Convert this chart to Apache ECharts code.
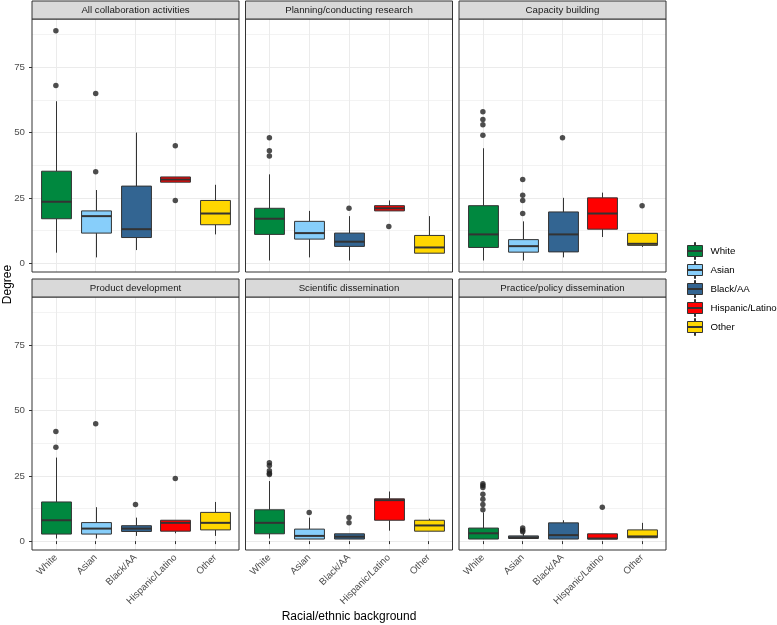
<!DOCTYPE html>
<html>
<head>
<meta charset="utf-8">
<script src="https://cdn.jsdelivr.net/npm/echarts@6/dist/echarts.min.js"></script>
<style>html,body{margin:0;padding:0;background:#fff;}#c{width:777px;height:625px;}</style>
</head>
<body>
<div id="c"></div>
<script>
// ---------- data ----------
const categories = ['White', 'Asian', 'Black/AA', 'Hispanic/Latino', 'Other'];
const panels = ['All collaboration activities', 'Planning/conducting research', 'Capacity building',
                'Product development', 'Scientific dissemination', 'Practice/policy dissemination'];
const yTicks = [0, 25, 50, 75];
const yMinorTicks = [12.5, 37.5, 62.5, 87.5];

// box stats per category: [lower whisker, Q1, median, Q3, upper whisker]
const boxAll        = [[4, 17, 23.5, 35.2, 62], [2.2, 11.5, 18, 20, 28], [5, 9.8, 13, 29.5, 50], [31, 31, 32, 33, 33], [11, 14.7, 19, 24, 30]];
const boxPlanning   = [[1, 11, 17, 21, 34], [2.2, 9.2, 11.5, 16, 20], [1, 6.4, 8.2, 11.5, 18], [20, 20, 21, 22, 24], [3.8, 3.8, 6, 10.6, 18]];
const boxCapacity   = [[1, 6, 11, 22, 44], [1, 4.2, 6.5, 9, 16], [2.2, 4.3, 11, 19.6, 25], [10, 13, 19, 25, 27], [6.2, 6.8, 7.4, 11.4, 11.4]];
const boxProduct    = [[1, 2.7, 8, 15, 32], [1, 2.7, 4.8, 7.1, 13], [2, 3.7, 4.8, 5.9, 9], [3, 3.8, 7, 8, 8], [2, 4.3, 7, 11, 15]];
const boxScientific = [[1, 2.8, 7, 12, 23], [0.8, 0.8, 2, 4.6, 9], [0.8, 0.8, 1.7, 2.8, 2.8], [4, 8, 15.7, 16.2, 19], [3.8, 3.8, 6, 8, 8.6]];
const boxPractice   = [[0.8, 0.8, 3, 5, 11], [0.8, 1, 1.5, 2, 3], [0.8, 0.8, 2.3, 7, 8], [0.8, 0.8, 1, 2.8, 2.8], [1.3, 1.3, 1.8, 4.3, 7]];

// outliers per category
const outAll        = [[89, 68], [65, 35], [], [45, 24], []];
const outPlanning   = [[48, 43, 41], [], [21], [14], []];
const outCapacity   = [[58, 55, 53, 49], [32, 26, 24, 19], [48], [], [22]];
const outProduct    = [[42, 36], [45], [14], [24], []];
const outScientific = [[30, 29, 27, 26, 25.5], [11], [9, 7], [], []];
const outPractice   = [[22, 21.3, 20.5, 18, 16, 14, 12], [5, 4.2, 3.6], [], [13], []];

const boxes = [boxAll, boxPlanning, boxCapacity, boxProduct, boxScientific, boxPractice];
const outliers = [outAll, outPlanning, outCapacity, outProduct, outScientific, outPractice];

// ---------- style / layout ----------
const colors = ['#00883F', '#87CEFA', '#336592', '#FF0000', '#FFD700'];
const FONT = '"Liberation Sans", Arial, sans-serif';
const colLeft = [32, 245.5, 459];
const rowTop = [19, 297];
const PW = 207, PH = 253, STRIP = 18;
const Y_MIN = -3.4, Y_MAX = 93.5;

const grids = [], xAxes = [], yAxes = [], series = [], graphics = [];

panels.forEach((name, p) => {
  const col = p % 3, row = Math.floor(p / 3);
  const left = colLeft[col], top = rowTop[row];
  grids.push({left: left, top: top, width: PW, height: PH, show: true,
              borderColor: '#333333', borderWidth: 1, backgroundColor: 'transparent', z: 3});
  const bottomRow = row === 1;
  xAxes.push({
    gridIndex: p, type: 'value', min: 0.4, max: 5.6,
    axisLine: {show: false},
    axisTick: {show: bottomRow, length: 3, lineStyle: {color: '#333333'}, customValues: [1, 2, 3, 4, 5]},
    axisLabel: {show: bottomRow, customValues: [1, 2, 3, 4, 5], rotate: 45, margin: 6,
                formatter: v => categories[Math.round(v) - 1], color: '#4D4D4D', fontSize: 9.7, fontFamily: FONT},
    splitLine: {show: true, lineStyle: {color: '#EBEBEB', width: 1}}
  });
  const leftCol = col === 0;
  yAxes.push({
    gridIndex: p, type: 'value', min: Y_MIN, max: Y_MAX, position: 'left',
    axisLine: {show: false},
    axisTick: {show: leftCol, length: 3, lineStyle: {color: '#333333'}, customValues: yTicks},
    axisLabel: {show: leftCol, customValues: yTicks, color: '#4D4D4D', fontSize: 9.7, fontFamily: FONT, margin: 7},
    splitLine: {show: true, lineStyle: {color: '#EBEBEB', width: 1}}
  });
  yAxes.push({
    gridIndex: p, type: 'value', min: Y_MIN, max: Y_MAX, position: 'right',
    axisLine: {show: false}, axisLabel: {show: false},
    axisTick: {show: false, customValues: yMinorTicks},
    splitLine: {show: true, lineStyle: {color: '#F3F3F3', width: 1}}
  });

  categories.forEach((cat, c) => {
    series.push({
      type: 'custom', name: cat, xAxisIndex: p, yAxisIndex: p * 2, z: 4,
      itemStyle: {color: colors[c]},
      encode: {x: 0, y: [1, 2, 3, 4, 5]},
      data: [[c + 1].concat(boxes[p][c])],
      renderItem: function (params, api) {
        const x = api.value(0);
        const lo = api.coord([x, api.value(1)]);
        const q1 = api.coord([x, api.value(2)]);
        const md = api.coord([x, api.value(3)]);
        const q3 = api.coord([x, api.value(4)]);
        const hi = api.coord([x, api.value(5)]);
        const w = api.size([0.75, 0])[0];
        const cx = Math.round(lo[0]) + 0.5;
        return {type: 'group', children: [
          {type: 'line', shape: {x1: cx, y1: lo[1], x2: cx, y2: q1[1]}, style: {stroke: '#333333', lineWidth: 1}},
          {type: 'line', shape: {x1: cx, y1: q3[1], x2: cx, y2: hi[1]}, style: {stroke: '#333333', lineWidth: 1}},
          {type: 'rect', shape: {x: cx - w / 2, y: q3[1], width: w, height: q1[1] - q3[1]},
           style: {fill: api.visual('color'), stroke: '#333333', lineWidth: 1}},
          {type: 'line', shape: {x1: cx - w / 2, y1: md[1], x2: cx + w / 2, y2: md[1]},
           style: {stroke: '#333333', lineWidth: 2}}
        ]};
      }
    });
  });

  const pts = [];
  outliers[p].forEach((vals, c) => vals.forEach(v => pts.push([c + 1, v])));
  series.push({
    type: 'scatter', name: 'outlier', xAxisIndex: p, yAxisIndex: p * 2, z: 5,
    symbolSize: 5.5, itemStyle: {color: '#222222'}, data: pts, silent: true
  });

  graphics.push({type: 'rect', shape: {x: left, y: top - STRIP, width: PW, height: STRIP},
                 style: {fill: '#D9D9D9', stroke: '#333333', lineWidth: 1}, z: 10});
  graphics.push({type: 'text', x: left + PW / 2, y: top - STRIP / 2,
                 style: {text: name, fill: '#1A1A1A', font: '9.7px ' + FONT, align: 'center', verticalAlign: 'middle'}, z: 11});
});

graphics.push({type: 'text', x: 349, y: 617,
  style: {text: 'Racial/ethnic background', fill: '#000', font: '12px ' + FONT, align: 'center', verticalAlign: 'middle'}});
graphics.push({type: 'text', x: 8, y: 284.5, rotation: Math.PI / 2,
  style: {text: 'Degree', fill: '#000', font: '12px ' + FONT, align: 'center', verticalAlign: 'middle'}});

const chart = echarts.init(document.getElementById('c'), null, {renderer: 'canvas'});
chart.setOption({
  animation: false,
  backgroundColor: '#ffffff',
  grid: grids, xAxis: xAxes, yAxis: yAxes, series: series,
  legend: {
    data: categories, orient: 'vertical', left: 687, top: 242, padding: 0,
    itemWidth: 15, itemHeight: 17, itemGap: 1,
    selectedMode: false,
    icon: 'path://M7,0L8,0L8,3L7,3Z M0,3L15,3L15,14L0,14Z M7,14L8,14L8,17L7,17Z M0,8L15,8L15,9L0,9Z',
    itemStyle: {borderColor: '#333333', borderWidth: 1},
    textStyle: {color: '#000', fontSize: 9.7, fontFamily: FONT, padding: [0, 0, 0, 3], lineHeight: 12}
  },
  graphic: graphics
});
</script>
</body>
</html>
